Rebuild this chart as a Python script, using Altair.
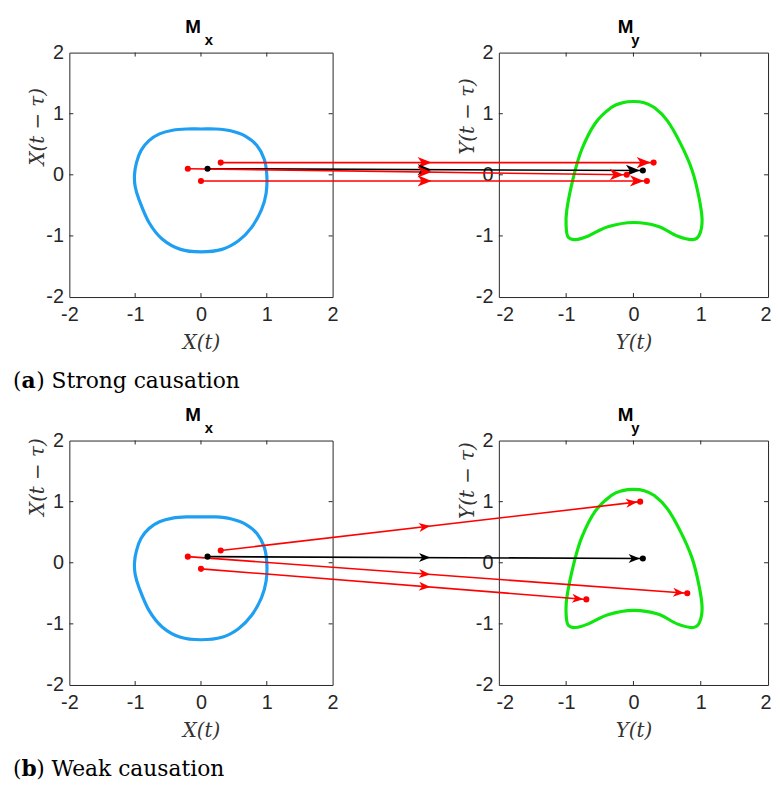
import math
import altair as alt
import pandas as pd

# ---------------- data ----------------
tick_values = [-2, -1, 0, 1, 2]
inner_ticks = [-1, 0, 1]

# shadow manifold M_x : (X(t), X(t - tau))
mx_x = [0.0, 0.22, 0.45, 0.68, 0.85, 0.96, 1.0, 0.99, 0.92, 0.77, 0.57, 0.32, 0.0, -0.31, -0.59,
        -0.79, -0.94, -1.0, -1.01, -0.98, -0.91, -0.79, -0.63, -0.43, -0.22]
mx_y = [0.75, 0.75, 0.72, 0.63, 0.48, 0.26, 0.0, -0.3, -0.57, -0.86, -1.08, -1.22, -1.26, -1.22, -1.05,
        -0.78, -0.41, -0.19, 0.0, 0.2, 0.4, 0.56, 0.67, 0.73, 0.75]

# shadow manifold M_y : (Y(t), Y(t - tau))
my_x = [0.0, 0.16, 0.31, 0.5, 0.7, 0.87, 0.97, 1.02, 0.98, 0.88, 0.65, 0.36, 0.0, -0.38, -0.67,
        -0.86, -0.97, -1.0, -0.99, -0.89, -0.77, -0.57, -0.33, -0.16]
my_y = [1.2, 1.18, 1.1, 0.89, 0.51, 0.08, -0.35, -0.73, -0.98, -1.06, -1.0, -0.84, -0.78, -0.85,
        -1.0, -1.06, -1.02, -0.85, -0.57, -0.03, 0.41, 0.84, 1.1, 1.18]

# arrows: start points on M_x (same in both rows)
start_x = [0.3, 0.1, -0.2, 0.0]
start_y = [0.2, 0.1, 0.1, -0.1]
arrow_color = ["#ff0000", "#000000", "#ff0000", "#ff0000"]

# end points on M_y
strong_end_x = [0.3, 0.14, -0.1, 0.2]
strong_end_y = [0.2, 0.07, 0.0, -0.1]
weak_end_x = [0.1, 0.14, 0.8, -0.7]
weak_end_y = [1.0, 0.07, -0.5, -0.6]

# ---------------- layout ----------------
W_L, W_R, H = 266, 272, 247
GAP, ROW_GAP = 168, 145
MID_PX = -75  # x (px, right-panel frame) of the mid-arrowheads

BLUE = "#1e9ff2"
GREEN = "#0ee60e"
AX = "#262626"
LABEL_FONT = "Liberation Sans"
MATH_FONT = "DejaVu Serif"
CAP_FONT = "DejaVu Serif"

dom = alt.Scale(domain=[-2, 2], nice=False, zero=False)
one = alt.Data(values=[{"a": 1}])


def x_axis(title, flush):
    kw = dict(values=tick_values, title=title, labelExpr="'' + datum.value", grid=False,
              domain=False, ticks=False, labelPadding=8, labelFont=LABEL_FONT, labelFontSize=20,
              labelColor=AX, titleFont=MATH_FONT, titleFontStyle="italic", titleFontWeight="normal",
              titleFontSize=20, titleColor="#333333", titleY=46, titleBaseline="middle",
              labelFlush=flush)
    if flush:
        kw["labelFlushOffset"] = 3
    return alt.Axis(**kw)


def y_axis(title, ty):
    return alt.Axis(values=tick_values, title=title, labelExpr="'' + datum.value", grid=False,
                    domain=False, ticks=False, labelPadding=6, labelFont=LABEL_FONT, labelFontSize=20,
                    labelColor=AX, titleFont=MATH_FONT, titleFontStyle="italic",
                    titleFontWeight="normal", titleFontSize=20, titleColor="#333333",
                    titleX=-32, titleY=ty, titleAngle=270, titleBaseline="middle",
                    titleAlign="center")


def frame_ticks(xax, yax, W):
    d = pd.DataFrame({"v": inner_ticks})
    X = alt.X("v:Q", scale=dom, axis=xax)
    Y = alt.Y("v:Q", scale=dom, axis=yax)
    base = alt.Chart(d).mark_rule(color=AX, strokeWidth=1)
    return [
        base.encode(x=X, y=alt.value(H), y2=alt.value(H - 4)),
        base.encode(x=X, y=alt.value(0), y2=alt.value(4)),
        base.encode(y=Y, x=alt.value(0), x2=alt.value(4)),
        base.encode(y=Y, x=alt.value(W), x2=alt.value(W - 4)),
    ]


def text_layer(txt, x, y, size, weight="normal", font=LABEL_FONT, align="center"):
    return alt.Chart(one).mark_text(text=txt, font=font, fontSize=size, fontWeight=weight,
                                    align=align, baseline="alphabetic", color="black").encode(
        x=alt.value(x), y=alt.value(y))


def curve(xs, ys, color, xax, yax):
    d = pd.DataFrame({"x": xs, "y": ys, "i": list(range(len(xs)))})
    return alt.Chart(d).mark_line(interpolate="cardinal-closed", strokeWidth=3.2, color=color).encode(
        x=alt.X("x:Q", scale=dom, axis=xax), y=alt.Y("y:Q", scale=dom, axis=yax),
        order="i:Q")


# coordinate helpers (right-panel frame)
def px_r(x):
    return (x + 2) / 4 * W_R


def py(y):
    return (2 - y) / 4 * H


def inv_x(p):
    return p / W_R * 4 - 2


def inv_y(p):
    return 2 - p / H * 4


def left_to_right_x(lx):
    return inv_x((lx + 2) / 4 * W_L - W_L - GAP)


def left_panel(ytitle_y, caption_letter, caption_rest):
    xax = x_axis("X(t)", False)
    yax = y_axis("X(t − τ)", ytitle_y)
    layers = [curve(mx_x, mx_y, BLUE, xax, yax)]
    layers += frame_ticks(xax, yax, W_L)
    layers += [
        text_layer("M", W_L / 2 - 8, -20, 19, "bold"),
        text_layer("x", W_L / 2 + 8, -8, 15, "bold"),
        text_layer("(", -57, 339, 22, font=CAP_FONT, align="left"),
        text_layer(caption_letter, -48.4, 339, 22, weight="bold", font=CAP_FONT, align="left"),
        text_layer(caption_rest, -33.5, 339, 22, font=CAP_FONT, align="left"),
    ]
    return alt.layer(*layers).properties(width=W_L, height=H)


def right_panel(ytitle_y, end_x, end_y, head_size):
    xax = x_axis("Y(t)", True)
    yax = y_axis("Y(t − τ)", ytitle_y)
    hl = math.sqrt(head_size)
    lines, heads, dots = [], [], []
    for i in range(len(start_x)):
        sx, sy = left_to_right_x(start_x[i]), start_y[i]
        ex, ey = end_x[i], end_y[i]
        c = arrow_color[i]
        lines.append({"x": sx, "y": sy, "x2": ex, "y2": ey, "c": c, "k": i})
        psx, psy, pex, pey = px_r(sx), py(sy), px_r(ex), py(ey)
        dx, dy = pex - psx, pey - psy
        L = math.hypot(dx, dy)
        ux, uy = dx / L, dy / L
        ang = math.degrees(math.atan2(dy, dx)) % 360
        t = (MID_PX - psx) / dx
        mxp, myp = psx + t * dx, psy + t * dy
        heads.append({"x": inv_x(mxp), "y": inv_y(myp), "a": ang, "c": c})
        exp_, eyp = pex - ux * (hl / 2 + 3), pey - uy * (hl / 2 + 3)
        heads.append({"x": inv_x(exp_), "y": inv_y(eyp), "a": ang, "c": c})
        dots.append({"x": sx, "y": sy, "c": c})
        dots.append({"x": ex, "y": ey, "c": c})
    X = alt.X("x:Q", scale=dom, axis=xax)
    Y = alt.Y("y:Q", scale=dom, axis=yax)
    col = alt.Color("c:N", scale=None, legend=None)
    line_layer = alt.Chart(pd.DataFrame(lines)).mark_rule(strokeWidth=1.6).encode(
        x=X, y=Y, x2="x2:Q", y2="y2:Q", color=col)
    head_layer = alt.Chart(pd.DataFrame(heads)).mark_point(
        shape="M1,0L-1,-0.8L-0.45,0L-1,0.8Z", filled=True, opacity=1, size=head_size,
        strokeWidth=0).encode(x=X, y=Y, angle=alt.Angle("a:Q", scale=None), color=col)
    dot_layer = alt.Chart(pd.DataFrame(dots)).mark_circle(size=38, opacity=1).encode(
        x=X, y=Y, color=col)
    layers = [curve(my_x, my_y, GREEN, xax, yax)]
    layers += frame_ticks(xax, yax, W_R)
    layers += [line_layer, head_layer, dot_layer,
               text_layer("M", W_R / 2 - 8, -20, 19, "bold"),
               text_layer("y", W_R / 2 + 2, -8, 15, "bold")]
    return alt.layer(*layers).properties(width=W_R, height=H)


chart = alt.concat(
    left_panel(74.5, "a", ") Strong causation"),
    right_panel(64, strong_end_x, strong_end_y, 200),
    left_panel(36.5, "b", ") Weak causation"),
    right_panel(40, weak_end_x, weak_end_y, 130),
    columns=2,
    spacing={"row": ROW_GAP, "column": GAP},
    bounds="flush",
    align="each",
).properties(
    padding={"left": 4, "top": 5, "right": 0, "bottom": 0},
    background="white",
).configure_view(
    stroke="#262626", strokeWidth=1
)

chart.save("out.html", embed_options={"renderer": "svg", "actions": False})
